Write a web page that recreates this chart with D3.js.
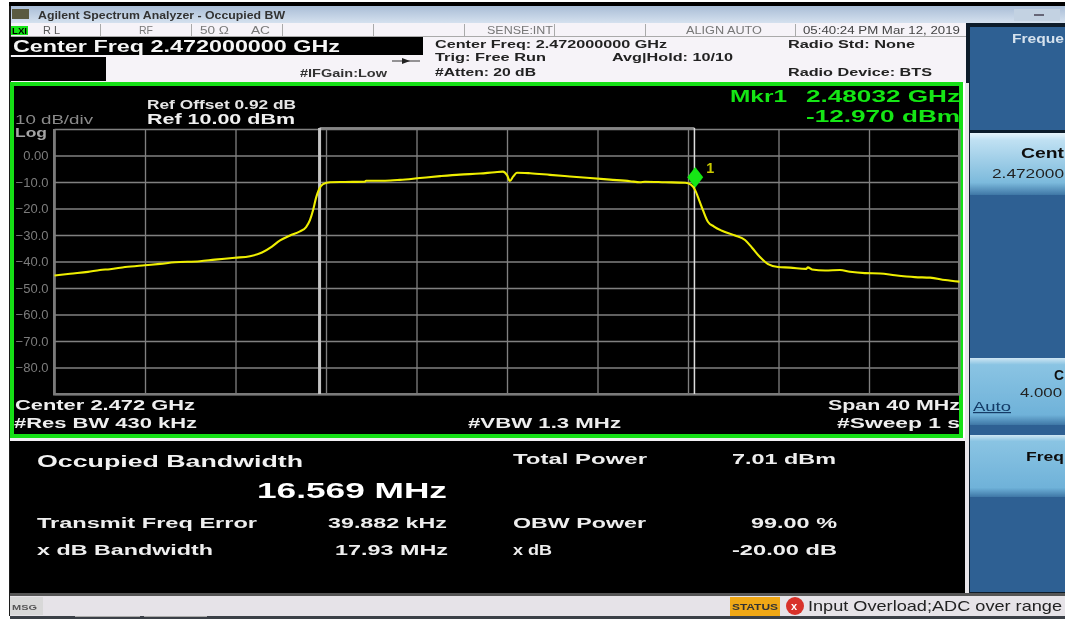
<!DOCTYPE html>
<html>
<head>
<meta charset="utf-8">
<script src="https://cdn.jsdelivr.net/npm/d3@7"></script>
<style>
  html, body { margin: 0; padding: 0; background: #fff; overflow: hidden; }
  text { font-family: "Liberation Sans", Arial, sans-serif; }
</style>
</head>
<body>
<script>
// trace: offset from center in MHz, level in dBm
const traceOffset = [-20,-19.31,-18.52,-17.99,-17.55,-16.88,-16,-15.34,-14.67,-13.57,-12.91,-12.02,-11.36,-10.83,-10.39,-10.03,
  -9.59,-9.15,-8.88,-8.71,-8.57,-8.44,-8.31,-8.13,-7.82,-7.16,-6.28,-6.23,-5.39,-4.73,-3.85,-2.96,
  -2.08,-1.19,-0.53,-0.18,0,0.13,0.27,0.44,1.02,1.9,2.78,3.67,4.55,5.44,5.88,6.1,
  6.98,7.87,8.13,8.31,8.49,8.66,8.88,9.15,9.5,10.08,10.52,10.83,11.18,11.54,11.98,12.51,
  13.22,13.3,13.48,14.06,14.72,15.16,15.82,16.49,17.15,18.03,18.7,19.36,20];
const traceLevel = [-45.3,-44.6,-43.9,-43.2,-42.9,-42.1,-41.4,-40.9,-40.3,-39.9,-39.3,-38.6,-38,-36.6,-34.4,-32,
  -30.2,-28.6,-27,-24.4,-20.6,-16,-12.8,-10.8,-10.1,-10,-9.9,-9.5,-9.5,-9.2,-8.5,-7.8,
  -7.2,-6.8,-6.3,-6.1,-7.4,-9.6,-8,-6.5,-6.7,-7.3,-7.9,-8.5,-9.1,-9.7,-10.1,-9.9,
  -10.1,-10.3,-11,-12.97,-16.8,-20.6,-25,-26.8,-28.4,-30.2,-31.9,-34.8,-38.3,-41,-42.1,-42.3,
  -42.8,-42.2,-43,-43.4,-43.2,-43.9,-44.4,-44.5,-45.2,-45.9,-46.1,-47,-47.6];

const centerGHz = 2.472;
const spanMHz = 40;
const yTicks = [10,0,-10,-20,-30,-40,-50,-60,-70,-80,-90];
const xTicks = [-20,-16,-12,-8,-4,0,4,8,12,16,20];
const obwOffset = [-8.2845, 8.2845];
const markerOffset = 8.32;
const markerLevel = -12.97;

const width = 1065, height = 619;
const svg = d3.select("body").append("svg")
  .attr("width", width).attr("height", height)
  .attr("viewBox", [0, 0, width, height]);

const defs = svg.append("defs");
defs.append("filter").attr("id", "soft").attr("x", "-2%").attr("y", "-2%").attr("width", "104%").attr("height", "104%")
  .append("feGaussianBlur").attr("stdDeviation", 0.55);
function grad(id, stops) {
  const g = defs.append("linearGradient").attr("id", id).attr("x1", 0).attr("x2", 0).attr("y1", 0).attr("y2", 1);
  stops.forEach(s => g.append("stop").attr("offset", s[0]).attr("stop-color", s[1]));
}
grad("bar", [[0, "#a9bdd6"], [1, "#d5e1ef"]]);
grad("key", [[0, "#e8f4fa"], [0.12, "#bfe0f2"], [0.8, "#7cbadc"], [1, "#3f77a6"]]);
grad("key2", [[0, "#cfe6f3"], [0.1, "#8ac4e3"], [0.85, "#6fb2d9"], [1, "#3f77a6"]]);

const root = svg.append("g").attr("filter", "url(#soft)");

function box(x, y, w, h, fill) {
  return root.append("rect").attr("x", x).attr("y", y).attr("width", w).attr("height", h).attr("fill", fill);
}
// len is the drawn width, the screen font is wider than Liberation so it gets stretched a bit
function label(x, y, s, size, fill, len, weight) {
  const t = root.append("text").attr("x", x).attr("y", y).text(s)
    .attr("font-size", size).attr("fill", fill).attr("font-weight", weight || "bold");
  if (len) t.attr("textLength", len).attr("lengthAdjust", "spacingAndGlyphs");
  return t;
}

// screen frame
box(0, 0, width, height, "#fff");
box(9, 2, 1056, 4, "#000");
box(9, 6, 2, 610, "#1a1a1a");
box(11, 6, 1054, 17, "url(#bar)");
box(1014, 9, 46, 12, "#c3d2e2");
box(11, 23, 955, 60, "#f6f3f8");
box(966, 23, 99, 570, "#0d1b2a");

// title and status row
label(38, 19, "Agilent Spectrum Analyzer - Occupied BW", 10.5, "#333", 247);
box(12, 9, 17, 10, "#5a5a40");
box(1034, 14, 10, 2, "#667");
box(11, 26, 17, 9, "#19e619");
label(12, 34, "LXI", 9, "#000", 15);
label(43, 34, "R L", 10, "#555", 17, "normal");
label(139, 34, "RF", 10, "#777", 14, "normal");
label(200, 34, "50 Ω", 10, "#777", 29, "normal");
label(251, 34, "AC", 10, "#777", 19, "normal");
label(487, 34, "SENSE:INT", 10, "#777", 66, "normal");
label(686, 34, "ALIGN AUTO", 10, "#777", 76, "normal");
label(803, 34, "05:40:24 PM Mar 12, 2019", 10.5, "#444", 157, "normal");
[100, 191, 282, 373, 464, 554, 645, 795].forEach(x => box(x, 24, 1, 12, "#aaa"));
box(11, 36, 955, 1, "#aaa");

box(10, 37, 413, 18, "#000");
label(13, 52, "Center Freq 2.472000000 GHz", 16, "#f5f5f5", 327);
box(10, 57, 96, 24, "#000");
label(300, 77, "#IFGain:Low", 10, "#333", 87);
box(392, 60.5, 28, 1, "#333");
root.append("path").attr("d", "M402,58 L410,61 L402,64 Z").attr("fill", "#222");
label(435, 48, "Center Freq: 2.472000000 GHz", 11, "#222", 232);
label(435, 61, "Trig: Free Run", 11, "#222", 111);
label(435, 76, "#Atten: 20 dB", 11, "#222", 101);
label(612, 61, "Avg|Hold: 10/10", 11, "#222", 121);
label(788, 48, "Radio Std: None", 11, "#222", 127);
label(788, 76, "Radio Device: BTS", 11, "#222", 144);

// green frame round the plot
box(10, 82, 953, 356, "#16e016");
box(14, 86, 945, 348, "#000");

label(147, 109, "Ref Offset 0.92 dB", 12, "#e6e6e6", 149);
label(147, 124, "Ref 10.00 dBm", 14, "#f0f0f0", 148);
label(15, 124, "10 dB/div", 12, "#8a8a8a", 78, "normal");
label(15, 137, "Log", 12, "#a5a5a5", 32);
label(730, 102, "Mkr1", 16, "#12e612", 57);
label(806, 102, "2.48032 GHz", 16, "#12e612", 154);
label(806, 122, "-12.970 dBm", 16, "#12e612", 154);

// plot scales, 40 MHz span and 10 dB/div
const x = d3.scaleLinear().domain([-spanMHz / 2, spanMHz / 2]).range([54.5, 959.5]);
const y = d3.scaleLinear().domain([10, -90]).range([129, 394]);

const yAxis = d3.axisLeft(y).tickValues(yTicks)
  .tickSize(-(x.range()[1] - x.range()[0])).tickPadding(6)
  .tickFormat(d => (d === 10 || d === -90) ? "" : (d === 0 ? "0.00" : d3.format(".1f")(d)));
const gy = root.append("g").attr("transform", `translate(${x.range()[0]},0)`).call(yAxis);
gy.select(".domain").remove();
gy.selectAll("line").attr("stroke", "#808080").attr("stroke-width", 1.3);
gy.selectAll("text").attr("fill", "#7c7c7c").attr("font-size", 13).attr("font-family", "Liberation Sans");

const xAxis = d3.axisBottom(x).tickValues(xTicks).tickFormat("")
  .tickSize(-(y.range()[1] - y.range()[0]));
const gx = root.append("g").attr("transform", `translate(0,${y.range()[1]})`).call(xAxis);
gx.select(".domain").remove();
gx.selectAll("line").attr("stroke", "#808080").attr("stroke-width", 1.3);

// plot edges
box(53, 129, 2.5, 266, "#7a7a7a");
box(53, 393, 907, 2.5, "#7a7a7a");
box(958, 129, 2, 266, "#7a7a7a");

// occupied bandwidth bracket
root.append("line").attr("x1", x(obwOffset[0])).attr("x2", x(obwOffset[1])).attr("y1", 128).attr("y2", 128)
  .attr("stroke", "#a8a8a8").attr("stroke-width", 1.3);
root.append("line").attr("x1", x(obwOffset[0])).attr("x2", x(obwOffset[0])).attr("y1", 128).attr("y2", 394)
  .attr("stroke", "#c4c4c4").attr("stroke-width", 3);
root.append("line").attr("x1", x(obwOffset[1])).attr("x2", x(obwOffset[1])).attr("y1", 128).attr("y2", 394)
  .attr("stroke", "#dcdcdc").attr("stroke-width", 1.5);

// trace
const line = d3.line().x(d => x(d[0])).y(d => y(d[1])).curve(d3.curveMonotoneX);
root.append("path").datum(d3.zip(traceOffset, traceLevel)).attr("d", line)
  .attr("fill", "none").attr("stroke", "#eeee00").attr("stroke-width", 2.1);

// marker, the diamond sits on top of the point
const mx = x(markerOffset), my = y(markerLevel);
root.append("path").attr("d", d3.symbol(d3.symbolDiamond, 170)())
  .attr("transform", `translate(${mx},${my - 12.5}) scale(1.14,0.85)`).attr("fill", "#12e612");
label(mx + 11, my - 17, "1", 14, "#c9c900", 8);

label(15, 410, "Center  2.472 GHz", 14, "#eee", 180);
label(14, 428, "#Res BW  430 kHz", 14, "#eee", 183);
label(468, 428, "#VBW  1.3 MHz", 14, "#eee", 153);
label(828, 410, "Span 40 MHz", 14, "#eee", 132);
label(837, 428, "#Sweep  1 s", 14, "#eee", 123);

// result table
box(10, 438, 955, 3, "#f2f0f4");
box(10, 441, 955, 152, "#000");
box(965, 83, 4, 510, "#e8e6ea");
label(37, 467, "Occupied Bandwidth", 16, "#f2f2f2", 266);
label(257, 498, "16.569 MHz", 22, "#fff", 190);
label(513, 464, "Total Power", 14, "#eee", 134);
label(732, 464, "7.01 dBm", 14, "#eee", 104);
label(37, 528, "Transmit Freq Error", 14, "#eee", 220);
label(328, 528, "39.882 kHz", 14, "#eee", 119);
label(513, 528, "OBW Power", 14, "#eee", 133);
label(751, 528, "99.00 %", 14, "#eee", 86);
label(37, 555, "x dB Bandwidth", 14, "#eee", 176);
label(335, 555, "17.93 MHz", 14, "#eee", 113);
label(513, 555, "x dB", 14, "#eee", 39);
label(732, 555, "-20.00 dB", 14, "#eee", 105);

// softkeys on the right
box(970, 27, 95, 103, "#2f6093");
label(1012, 43, "Freque", 13, "#d5e2ee", 52);
box(970, 133, 95, 62, "url(#key)");
label(1021, 158, "Cent", 14, "#111", 43);
label(992, 178, "2.472000", 12, "#222", 72, "normal");
box(970, 195, 95, 163, "#2f6093");
box(970, 358, 95, 67, "url(#key2)");
label(1054, 380, "C", 14, "#111", 10);
label(1020, 397, "4.000", 12, "#222", 42, "normal");
label(973, 411, "Auto", 12, "#123a66", 38, "normal").attr("text-decoration", "underline");
box(970, 425, 95, 10, "#2f6093");
box(970, 435, 95, 62, "url(#key2)");
label(1026, 461, "Freq", 13, "#111", 38);
box(970, 497, 95, 95, "#2f6093");

// message bar
box(10, 593, 1055, 3, "#555");
box(10, 596, 1055, 20, "#e6e3e8");
box(10, 597, 33, 18, "#d8d8d8");
label(12, 610, "MSG", 8, "#555", 25);
box(730, 597, 50, 19, "#f0a818");
label(732, 610, "STATUS", 9, "#333", 46);
root.append("circle").attr("cx", 795).attr("cy", 606).attr("r", 9).attr("fill", "#d8322c");
label(791, 610, "x", 11, "#fff");
label(808, 611, "Input Overload;ADC over range", 15, "#222", 254, "normal");
box(10, 616, 1055, 3, "#3a3f46");
box(75, 616, 65, 1, "#aaa");
box(144, 616, 63, 1, "#aaa");
</script>
</body>
</html>
